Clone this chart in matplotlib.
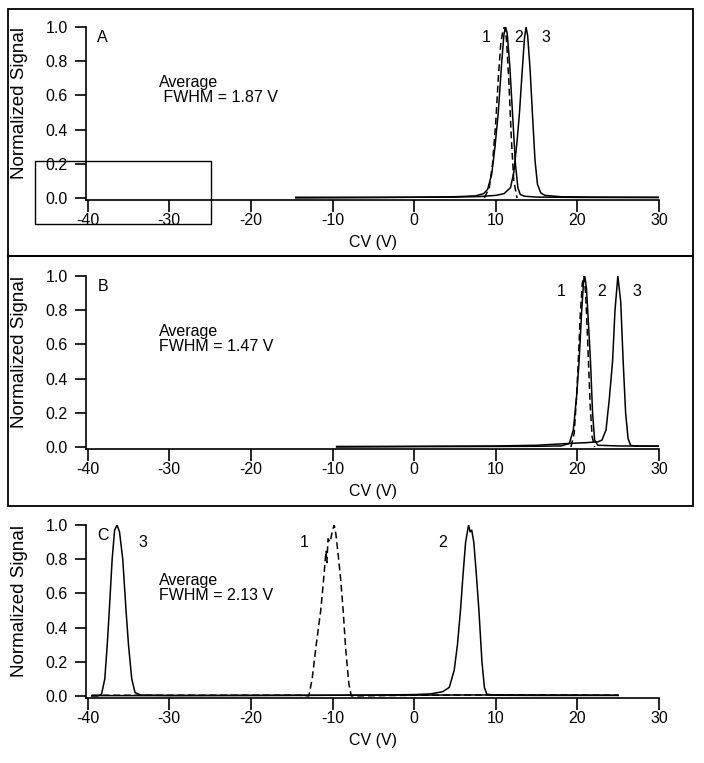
import matplotlib
matplotlib.use('Agg')
from matplotlib import pyplot as plt
from matplotlib.patches import Rectangle

plt.rcParams['font.family'] = ['Liberation Sans', 'DejaVu Sans']
plt.rcParams['axes.unicode_minus'] = False

# panel A
a1_x = [8.6, 9.2, 9.6, 10.0, 10.3, 10.6, 10.9, 11.1, 11.3, 11.6, 11.9, 12.2, 12.6]
a1_y = [0.0, 0.06, 0.2, 0.45, 0.7, 0.9, 0.99, 1.0, 0.93, 0.68, 0.35, 0.1, 0.0]
a2_x = [-14.5, -5, 0, 5, 7.5, 8.5, 9.0, 9.5, 9.9, 10.3, 10.7, 11.0, 11.2, 11.4, 11.7,
        12.1, 12.4, 12.7, 13.0, 13.5, 15, 20, 30]
a2_y = [0.0, 0.002, 0.004, 0.007, 0.012, 0.025, 0.05, 0.14, 0.3, 0.5, 0.78, 0.96, 1.0, 0.96, 0.78,
        0.45, 0.2, 0.06, 0.02, 0.01, 0.005, 0.003, 0.002]
a3_x = [-14.5, -5, 0, 5, 8, 10, 11, 11.8, 12.2, 12.6, 12.9, 13.2, 13.5, 13.7, 13.9, 14.2,
        14.5, 14.8, 15.1, 15.5, 16, 18, 22, 30]
a3_y = [0.004, 0.004, 0.004, 0.005, 0.008, 0.015, 0.025, 0.06, 0.15, 0.33, 0.5, 0.72, 0.93, 1.0, 0.95, 0.75,
        0.48, 0.22, 0.08, 0.03, 0.015, 0.007, 0.005, 0.004]

# panel B
b1_x = [19.2, 19.6, 19.9, 20.1, 20.35, 20.6, 20.8, 21.0, 21.2, 21.35, 21.55, 21.8, 22.1]
b1_y = [0.0, 0.08, 0.3, 0.5, 0.78, 0.96, 1.0, 0.9, 0.68, 0.5, 0.25, 0.06, 0.0]
b2_x = [-9.5, 0, 10, 15, 18, 19.0, 19.5, 19.9, 20.2, 20.5, 20.75, 20.9, 21.1, 21.35, 21.6,
        21.85, 22.1, 22.5, 25, 30]
b2_y = [0.0, 0.002, 0.003, 0.004, 0.006, 0.02, 0.1, 0.3, 0.5, 0.78, 0.97, 1.0, 0.93, 0.72, 0.5,
        0.2, 0.04, 0.01, 0.006, 0.005]
b3_x = [-9.5, 0, 10, 15, 18, 19.5, 21, 22.5, 23.0, 23.5, 23.9, 24.3, 24.6, 24.95, 25.3,
        25.6, 25.9, 26.2, 26.5, 27, 28, 30]
b3_y = [0.003, 0.004, 0.006, 0.01, 0.018, 0.022, 0.025, 0.03, 0.04, 0.1, 0.28, 0.5, 0.8, 1.0, 0.85,
        0.5, 0.2, 0.05, 0.01, 0.006, 0.005, 0.005]

# panel C
c1_x = [-39.5, -30, -20, -14, -12.9, -12.5, -12.0, -11.45, -11.1, -10.8, -10.7, -10.55, -10.3,
        -10.0, -9.8, -9.6, -9.3, -9.0, -8.7, -8.4, -8.0, -7.7, 0, 10, 25]
c1_y = [0.004, 0.004, 0.004, 0.004, 0.0, 0.1, 0.3, 0.5, 0.68, 0.85, 0.78, 0.92, 0.9,
        0.97, 1.0, 0.95, 0.82, 0.68, 0.5, 0.28, 0.07, 0.0, 0.004, 0.006, 0.004]
c2_x = [-39.5, -30, -20, -10, -5, 0, 2, 3.5, 4.3, 4.9, 5.3, 5.67, 6.0, 6.3, 6.66, 6.85,
        7.05, 7.3, 7.6, 7.93, 8.3, 8.6, 8.9, 10, 15, 20, 25]
c2_y = [0.002, 0.002, 0.003, 0.004, 0.005, 0.008, 0.012, 0.025, 0.05, 0.15, 0.3, 0.5, 0.72, 0.9, 1.0, 0.96,
        0.97, 0.9, 0.72, 0.5, 0.2, 0.05, 0.01, 0.004, 0.003, 0.003, 0.003]
c3_x = [-39.5, -38.8, -38.3, -37.9, -37.6, -37.35, -37.0, -36.7, -36.4, -36.1, -35.7, -35.3,
        -35.0, -34.6, -34.2, -33.5, -30, -20, -10, 0, 10, 20, 25]
c3_y = [0.0, 0.0, 0.01, 0.1, 0.3, 0.5, 0.8, 0.97, 1.0, 0.96, 0.8, 0.5,
        0.3, 0.1, 0.02, 0.005, 0.003, 0.003, 0.004, 0.005, 0.006, 0.005, 0.004]

panels = ['A', 'B', 'C']
fwhm_texts = ['Average\n FWHM = 1.87 V', 'Average\nFWHM = 1.47 V', 'Average\nFWHM = 2.13 V']
xticks = [-40, -30, -20, -10, 0, 10, 20, 30]
yticks = [0.0, 0.2, 0.4, 0.6, 0.8, 1.0]

fig = plt.figure(figsize=(7.04, 7.63), dpi=100)

# boxes round panels A and B
fig.patches.append(Rectangle((0.0114, 0.6645), 0.973, 0.3235, transform=fig.transFigure,
                             fill=False, lw=1.3, ec='black'))
fig.patches.append(Rectangle((0.0114, 0.3368), 0.973, 0.3277, transform=fig.transFigure,
                             fill=False, lw=1.3, ec='black'))

bottoms = [0.7379, 0.4115, 0.0852]
axes = []
for i, b in enumerate(bottoms):
    ax = fig.add_axes([0.1222, b, 0.814, 0.2267])
    ax.set_xlim(-40.2, 30)
    ax.set_ylim(-0.012, 1.0)
    ax.spines['top'].set_visible(False)
    ax.spines['right'].set_visible(False)
    ax.spines['left'].set_linewidth(1.2)
    ax.spines['bottom'].set_linewidth(1.2)
    ax.set_xticks(xticks)
    ax.set_yticks(yticks)
    ax.set_yticklabels(['%.1f' % v for v in yticks])
    ax.tick_params(axis='x', direction='out', length=8.5, width=1.2, pad=1, labelsize=11.5)
    ax.tick_params(axis='y', direction='out', length=8, width=1.2, pad=5, labelsize=11.5)
    ax.set_xlabel('CV (V)', fontsize=11.5)
    ax.set_ylabel('Normalized Signal', fontsize=13.5)
    ax.xaxis.set_label_coords(0.5, -0.2)
    ax.yaxis.set_label_coords(-0.102, 0.56)
    ax.text(-38.8, 0.985, panels[i], fontsize=11.5, va='top', ha='left')
    ax.text(-31.3, 0.72, fwhm_texts[i], fontsize=11.5, va='top', ha='left', linespacing=1.0)
    axes.append(ax)

lw = 1.1
axA, axB, axC = axes
axA.plot(a1_x, a1_y, c='black', lw=lw, ls=(0, (4.5, 2.5)))
axA.plot(a2_x, a2_y, c='black', lw=lw)
axA.plot(a3_x, a3_y, c='black', lw=lw)
axA.text(8.8, 0.94, '1', fontsize=11.5, ha='center', va='center')
axA.text(12.8, 0.94, '2', fontsize=11.5, ha='center', va='center')
axA.text(16.1, 0.94, '3', fontsize=11.5, ha='center', va='center')
axA.add_patch(Rectangle((-46.4, -0.152), 21.5, 0.368, fill=False, lw=1.0, ec='black', clip_on=False))

axB.plot(b1_x, b1_y, c='black', lw=lw, ls=(0, (4.5, 2.5)))
axB.plot(b2_x, b2_y, c='black', lw=lw)
axB.plot(b3_x, b3_y, c='black', lw=lw)
axB.text(18.0, 0.91, '1', fontsize=11.5, ha='center', va='center')
axB.text(22.9, 0.91, '2', fontsize=11.5, ha='center', va='center')
axB.text(27.3, 0.91, '3', fontsize=11.5, ha='center', va='center')

axC.plot(c1_x, c1_y, c='black', lw=lw, ls=(0, (4.5, 2.5)))
axC.plot(c2_x, c2_y, c='black', lw=lw)
axC.plot(c3_x, c3_y, c='black', lw=lw)
axC.text(-33.2, 0.90, '3', fontsize=11.5, ha='center', va='center')
axC.text(-13.5, 0.90, '1', fontsize=11.5, ha='center', va='center')
axC.text(3.45, 0.90, '2', fontsize=11.5, ha='center', va='center')

plt.savefig('out.png', dpi=100)
